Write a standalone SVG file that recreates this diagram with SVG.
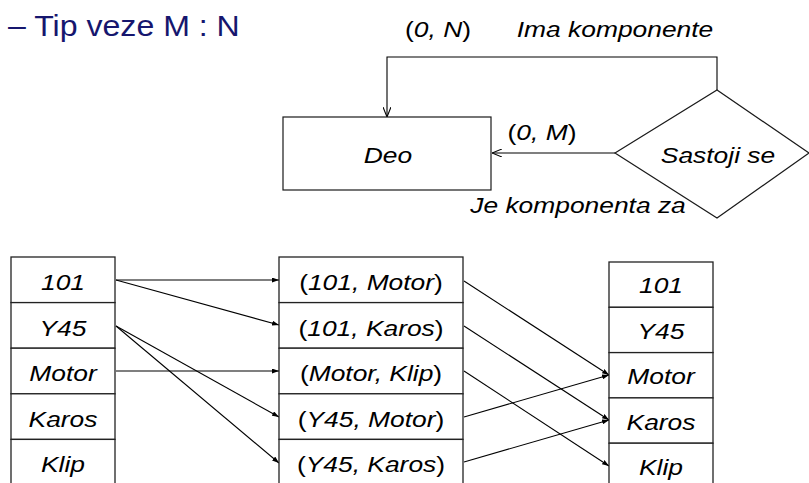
<svg xmlns="http://www.w3.org/2000/svg" width="809" height="483" viewBox="0 0 809 483">
  <style>
    .t { font-family: "Liberation Sans", Arial, sans-serif; font-size: 22px; fill: #000; text-anchor: middle; }
    .i { font-style: italic; }
    .title { font-family: "Liberation Sans", Arial, sans-serif; font-size: 30px; fill: #16166e; }
    .shape { fill: #fff; stroke: #1a1a1a; stroke-width: 1.2; }
    .cell { fill: #fff; stroke: #222; stroke-width: 1.3; }
    .conn { fill: none; stroke: #000; stroke-width: 1.1; }
    .open { marker-end: url(#openArrow); }
    .solid { marker-end: url(#solidArrow); }
  </style>
  <defs>
    <marker id="openArrow" viewBox="0 0 10 8" refX="10" refY="4" markerWidth="10" markerHeight="8" markerUnits="userSpaceOnUse" orient="auto">
      <path d="M0,0 L10,4 L0,8" fill="none" stroke="#000" stroke-width="1.1"/>
    </marker>
    <marker id="solidArrow" viewBox="0 0 7 5" refX="7" refY="2.5" markerWidth="7" markerHeight="5" markerUnits="userSpaceOnUse" orient="auto">
      <path d="M0,0 L7,2.5 L0,5 Z" fill="#000"/>
    </marker>
  </defs>
  <rect width="809" height="483" fill="#fff"/>

  <text class="title" transform="translate(8,36) scale(1.07,1)">– Tip veze M : N</text>

  <g id="connectors">
    <polyline class="conn open" points="717,90 717,57 387,57 387,117"/>
    <line class="conn open" x1="615" y1="153" x2="492" y2="153"/>
    <line class="conn solid" x1="116" y1="280" x2="279" y2="280"/>
    <line class="conn solid" x1="116" y1="280" x2="279" y2="325"/>
    <line class="conn solid" x1="116" y1="326" x2="279" y2="417"/>
    <line class="conn solid" x1="116" y1="326" x2="279" y2="463"/>
    <line class="conn solid" x1="116" y1="371" x2="279" y2="371"/>
    <line class="conn solid" x1="464" y1="281" x2="609" y2="375"/>
    <line class="conn solid" x1="464" y1="326" x2="609" y2="420"/>
    <line class="conn solid" x1="464" y1="371" x2="609" y2="466"/>
    <line class="conn solid" x1="464" y1="417" x2="609" y2="375"/>
    <line class="conn solid" x1="464" y1="462" x2="609" y2="420"/>
  </g>

  <g id="labels">
    <text class="t" transform="translate(438,37) scale(1.2,1)">(<tspan class="i">0, N</tspan>)</text>
    <text class="t i" transform="translate(615,37) scale(1.2,1)">Ima komponente</text>
    <text class="t" transform="translate(542,140) scale(1.2,1)">(<tspan class="i">0, M</tspan>)</text>
    <text class="t i" transform="translate(578,213) scale(1.2,1)">Je komponenta za</text>
  </g>

  <g id="deo">
    <rect class="shape" x="283" y="117" width="208" height="73"/>
    <text class="t i" transform="translate(388,163) scale(1.2,1)">Deo</text>
  </g>

  <g id="sastoji-se">
    <polygon class="shape" points="615,153 717,90 809,153 717,218"/>
    <text class="t i" transform="translate(718,163) scale(1.2,1)">Sastoji se</text>
  </g>

  <g id="table-deo-left">
    <g id="l-101"><rect class="cell" x="11" y="257" width="104" height="45.6"/><text class="t i" transform="translate(63,290) scale(1.2,1)">101</text></g>
    <g id="l-y45"><rect class="cell" x="11" y="302.6" width="104" height="45.6"/><text class="t i" transform="translate(63,336) scale(1.2,1)">Y45</text></g>
    <g id="l-motor"><rect class="cell" x="11" y="348.2" width="104" height="45.6"/><text class="t i" transform="translate(63,381) scale(1.2,1)">Motor</text></g>
    <g id="l-karos"><rect class="cell" x="11" y="393.8" width="104" height="45.6"/><text class="t i" transform="translate(63,427) scale(1.2,1)">Karos</text></g>
    <g id="l-klip"><rect class="cell" x="11" y="439.4" width="104" height="46"/><text class="t i" transform="translate(63,472) scale(1.2,1)">Klip</text></g>
  </g>

  <g id="table-sastoji-se">
    <g id="m-101-motor"><rect class="cell" x="279" y="257" width="184" height="45.6"/><text class="t" transform="translate(371,290) scale(1.2,1)">(<tspan class="i">101, Motor</tspan>)</text></g>
    <g id="m-101-karos"><rect class="cell" x="279" y="302.6" width="184" height="45.6"/><text class="t" transform="translate(371,336) scale(1.2,1)">(<tspan class="i">101, Karos</tspan>)</text></g>
    <g id="m-motor-klip"><rect class="cell" x="279" y="348.2" width="184" height="45.6"/><text class="t" transform="translate(371,381) scale(1.2,1)">(<tspan class="i">Motor, Klip</tspan>)</text></g>
    <g id="m-y45-motor"><rect class="cell" x="279" y="393.8" width="184" height="45.6"/><text class="t" transform="translate(371,427) scale(1.2,1)">(<tspan class="i">Y45, Motor</tspan>)</text></g>
    <g id="m-y45-karos"><rect class="cell" x="279" y="439.4" width="184" height="46"/><text class="t" transform="translate(371,472) scale(1.2,1)">(<tspan class="i">Y45, Karos</tspan>)</text></g>
  </g>

  <g id="table-deo-right">
    <g id="r-101"><rect class="cell" x="609" y="262" width="104" height="45.3"/><text class="t i" transform="translate(661,293) scale(1.2,1)">101</text></g>
    <g id="r-y45"><rect class="cell" x="609" y="307.3" width="104" height="45.3"/><text class="t i" transform="translate(661,339) scale(1.2,1)">Y45</text></g>
    <g id="r-motor"><rect class="cell" x="609" y="352.6" width="104" height="45.3"/><text class="t i" transform="translate(661,384) scale(1.2,1)">Motor</text></g>
    <g id="r-karos"><rect class="cell" x="609" y="397.9" width="104" height="45.3"/><text class="t i" transform="translate(661,430) scale(1.2,1)">Karos</text></g>
    <g id="r-klip"><rect class="cell" x="609" y="443.2" width="104" height="46"/><text class="t i" transform="translate(661,475) scale(1.2,1)">Klip</text></g>
  </g>
</svg>
